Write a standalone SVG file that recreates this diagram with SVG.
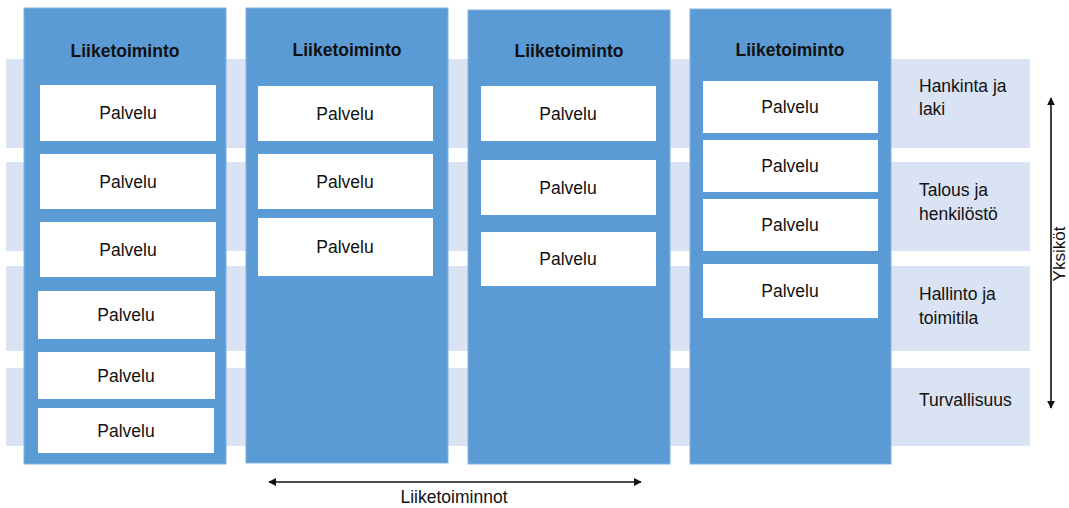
<svg xmlns="http://www.w3.org/2000/svg" width="1069" height="508" viewBox="0 0 1069 508">
<defs>
<style>
.band{fill:#DAE3F3}
.col{fill:#5B9BD5;stroke:#85B3E0;stroke-width:1}
.box{fill:#FFFFFF}
text{font-family:"Liberation Sans",Arial,sans-serif;font-size:17.5px;fill:#111}
.t{font-weight:bold;text-anchor:middle}
.p{text-anchor:middle}
.ln{stroke:#111;stroke-width:1.6;fill:none}
</style>
<marker id="ah" viewBox="0 0 10 10" refX="9" refY="5" markerWidth="5" markerHeight="5" orient="auto-start-reverse">
<path d="M0,0 L10,5 L0,10 z" fill="#111"/>
</marker>
</defs>
<rect width="1069" height="508" fill="#FFFFFF"/>
<g id="bands">
<rect class="band" x="6" y="59" width="1024" height="89"/>
<rect class="band" x="6" y="162" width="1024" height="89"/>
<rect class="band" x="6" y="266" width="1024" height="85"/>
<rect class="band" x="6" y="368" width="1024" height="78"/>
</g>
<g id="col1">
<rect class="col" x="24" y="8" width="202" height="456"/>
<text class="t" x="125" y="57">Liiketoiminto</text>
<rect class="box" x="40" y="85" width="176" height="56"/><text class="p" x="128" y="119">Palvelu</text>
<rect class="box" x="40" y="154" width="176" height="55"/><text class="p" x="128" y="188">Palvelu</text>
<rect class="box" x="40" y="222" width="176" height="55"/><text class="p" x="128" y="256">Palvelu</text>
<rect class="box" x="38" y="291" width="177" height="48"/><text class="p" x="126" y="321">Palvelu</text>
<rect class="box" x="38" y="352" width="177" height="47"/><text class="p" x="126" y="382">Palvelu</text>
<rect class="box" x="38" y="408" width="176" height="45"/><text class="p" x="126" y="437">Palvelu</text>
</g>
<g id="col2">
<rect class="col" x="246" y="8" width="202" height="455"/>
<text class="t" x="347" y="56">Liiketoiminto</text>
<rect class="box" x="258" y="86" width="175" height="55"/><text class="p" x="345" y="120">Palvelu</text>
<rect class="box" x="258" y="154" width="175" height="55"/><text class="p" x="345" y="188">Palvelu</text>
<rect class="box" x="258" y="218" width="175" height="58"/><text class="p" x="345" y="253">Palvelu</text>
</g>
<g id="col3">
<rect class="col" x="468" y="10" width="202" height="454"/>
<text class="t" x="569" y="57">Liiketoiminto</text>
<rect class="box" x="481" y="86" width="175" height="55"/><text class="p" x="568" y="120">Palvelu</text>
<rect class="box" x="481" y="160" width="175" height="55"/><text class="p" x="568" y="194">Palvelu</text>
<rect class="box" x="481" y="232" width="175" height="54"/><text class="p" x="568" y="265">Palvelu</text>
</g>
<g id="col4">
<rect class="col" x="690" y="9" width="201" height="455"/>
<text class="t" x="790" y="56">Liiketoiminto</text>
<rect class="box" x="703" y="81" width="175" height="52"/><text class="p" x="790" y="113">Palvelu</text>
<rect class="box" x="703" y="140" width="175" height="52"/><text class="p" x="790" y="172">Palvelu</text>
<rect class="box" x="703" y="199" width="175" height="52"/><text class="p" x="790" y="231">Palvelu</text>
<rect class="box" x="703" y="264" width="175" height="54"/><text class="p" x="790" y="297">Palvelu</text>
</g>
<g id="labels">
<text x="919" y="92">Hankinta ja</text>
<text x="919" y="115">laki</text>
<text x="919" y="196">Talous ja</text>
<text x="919" y="220">henkilöstö</text>
<text x="919" y="300">Hallinto ja</text>
<text x="919" y="324">toimitila</text>
<text x="919" y="406">Turvallisuus</text>
</g>
<g id="connectors">
<line class="ln" x1="1051" y1="98" x2="1051" y2="408" marker-start="url(#ah)" marker-end="url(#ah)"/>
<text transform="translate(1065,254) rotate(-90)" text-anchor="middle" style="font-size:17px">Yksiköt</text>
<line class="ln" x1="269" y1="482" x2="641" y2="482" marker-start="url(#ah)" marker-end="url(#ah)"/>
<text x="454" y="503" text-anchor="middle">Liiketoiminnot</text>
</g>
</svg>
